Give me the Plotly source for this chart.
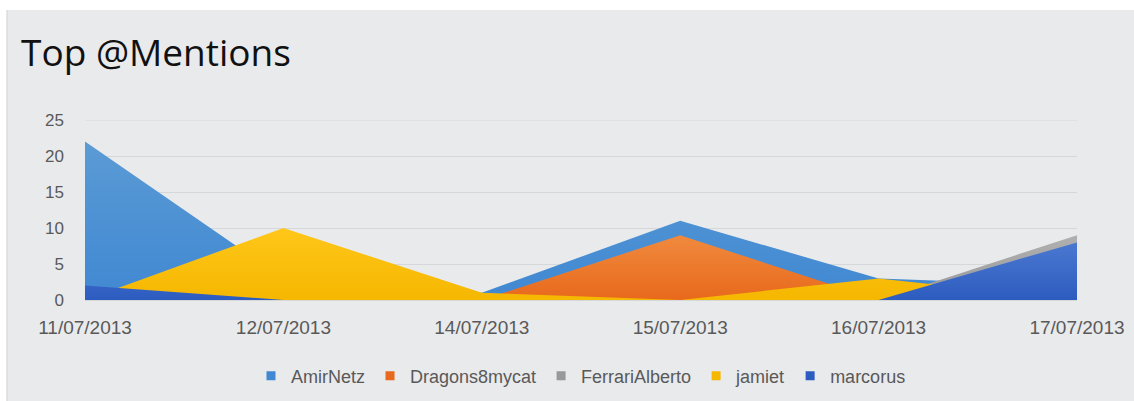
import plotly.graph_objects as go

# Daily mention counts per user
dates = ["11/07/2013", "12/07/2013", "14/07/2013", "15/07/2013", "16/07/2013", "17/07/2013"]
amirnetz = [22, 3, 1, 11, 3, 2]
dragons8mycat = [0, 0, 0, 9, 0, 0]
ferrarialberto = [0, 0, 0, 0, 0, 9]
jamiet = [0, 10, 1, 0, 3, 0]
marcorus = [2, 0, 0, 0, 0, 8]

series = [
    ("AmirNetz", amirnetz, "#5b9bd5", "#4088d2"),
    ("Dragons8mycat", dragons8mycat, "#f08a3e", "#e8691c"),
    ("FerrariAlberto", ferrarialberto, "#b0b0b0", "#999999"),
    ("jamiet", jamiet, "#ffc71a", "#f5b700"),
    ("marcorus", marcorus, "#4a78d0", "#2d5cc0"),
]

BG = "#e9eaec"
TXT = "#595959"
GRID = "#d6d7d9"
Y_MAX = 25

fig = go.Figure()

# Overlapping (unstacked) areas, later series painted over earlier ones
for name, vals, top, bottom in series:
    fig.add_trace(go.Scatter(
        x=dates, y=vals, name=name, mode="none",
        fill="tozeroy", fillcolor=bottom,
        fillgradient=dict(type="vertical", colorscale=[[0, bottom], [1, top]]),
        showlegend=False, hoverinfo="x+y+name",
    ))

# Square legend keys
for name, vals, top, bottom in series:
    fig.add_trace(go.Scatter(
        x=[None], y=[None], name=name, mode="markers",
        marker=dict(symbol="square", size=9, color=bottom),
        showlegend=True,
    ))

W, H = 1134, 401
L, R, T, B = 85, 57, 120, 101
pw, ph = W - L - R, H - T - B

def px_x(p):
    return (p - L) / pw

def px_y(p):
    return (H - B - p) / ph

fig.update_layout(
    width=W, height=H,
    margin=dict(l=L, r=R, t=T, b=B, autoexpand=False),
    paper_bgcolor="white",
    plot_bgcolor=BG,
    font=dict(family="Liberation Sans, Arial, sans-serif", color=TXT),
    title=dict(
        text="Top @Mentions",
        font=dict(family="Open Sans, sans-serif", size=37, color="#111111"),
        xref="container", yref="container",
        x=21 / W, xanchor="left",
        y=1 - 53 / H, yanchor="middle",
    ),
    xaxis=dict(
        type="category", range=[0, len(dates) - 1],
        showgrid=False, showline=True, linecolor=GRID, linewidth=1,
        ticks="", tickfont=dict(size=19, color=TXT),
        ticklabelstandoff=10, zeroline=False,
    ),
    yaxis=dict(
        range=[0, Y_MAX], dtick=5, tick0=0,
        showgrid=True, gridcolor=GRID, gridwidth=1,
        zeroline=False, showline=False, ticks="",
        tickfont=dict(size=17, color=TXT),
        ticklabelstandoff=20,
    ),
    legend=dict(
        orientation="h", x=0.5, xanchor="center",
        y=px_y(376), yanchor="middle",
        font=dict(size=18, color=TXT),
        bgcolor="rgba(0,0,0,0)", itemwidth=30,
        traceorder="normal",
    ),
    shapes=[
        dict(type="rect", xref="paper", yref="paper", layer="below",
             x0=px_x(7), x1=px_x(W), y0=px_y(H), y1=px_y(10),
             fillcolor=BG, line=dict(width=0)),
        dict(type="line", xref="paper", yref="paper", layer="below",
             x0=px_x(7), x1=px_x(7), y0=px_y(H), y1=px_y(10),
             line=dict(color="#d0d1d3", width=1)),
        # top gridline at the axis maximum
        dict(type="line", xref="paper", yref="y", layer="below",
             x0=0, x1=1, y0=Y_MAX, y1=Y_MAX,
             line=dict(color=GRID, width=1)),
    ],
)

fig.write_html("out.html")
